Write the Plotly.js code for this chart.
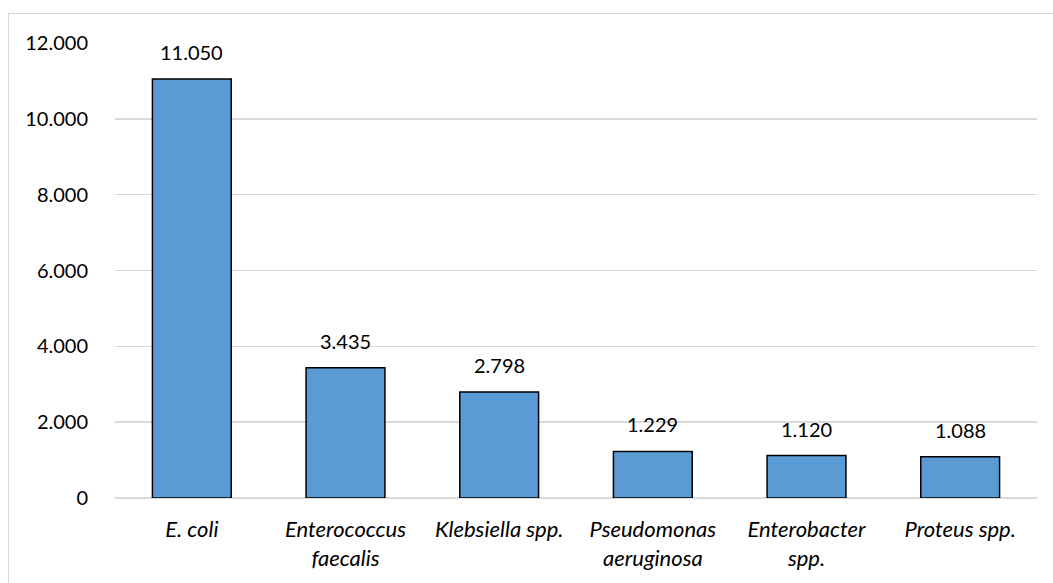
<!DOCTYPE html>
<html>
<head>
<meta charset="utf-8">
<script src="https://cdn.plot.ly/plotly-3.0.1.min.js"></script>
<style>
  html, body { margin: 0; padding: 0; background: #fff; }
  #wrap { position: relative; width: 1053px; height: 583px; overflow: hidden; }
  #chart { width: 1053px; height: 583px; }
  #frame {
    position: absolute; left: 8px; top: 13px; width: 1100px; height: 700px;
    border-left: 1.5px solid #d9d9d9; border-top: 1.5px solid #d9d9d9;
    pointer-events: none;
  }
</style>
</head>
<body>
<div id="wrap">
  <div id="chart"></div>
  <div id="frame"></div>
</div>
<script>
// Isolates per organism
const organisms = [
  'E. coli',
  'Enterococcus<br>faecalis',
  'Klebsiella spp.',
  'Pseudomonas<br>aeruginosa',
  'Enterobacter<br>spp.',
  'Proteus spp.'
];
const isolates = [11050, 3435, 2798, 1229, 1120, 1088];
const yTicks = [0, 2000, 4000, 6000, 8000, 10000, 12000];

const FONT = 'Lato, "Open Sans", sans-serif';

// thousands separated with a dot
function fmt(v) {
  return String(v).replace(/\B(?=(\d{3})+(?!\d))/g, '.');
}

const trace = {
  type: 'bar',
  x: organisms,
  y: isolates,
  marker: { color: '#5b9bd5', line: { color: '#000000', width: 1.5 } },
  hoverinfo: 'none'
};

const annotations = organisms.map((c, i) => ({
  x: c, y: isolates[i], xref: 'x', yref: 'y',
  text: fmt(isolates[i]),
  showarrow: false, yanchor: 'bottom', yshift: 13,
  font: { family: FONT, size: 20, color: '#000' }
}));

const layout = {
  width: 1053, height: 583,
  margin: { l: 115, r: 16, t: 43, b: 85 },
  paper_bgcolor: 'rgba(0,0,0,0)',
  plot_bgcolor: '#fff',
  bargap: 0.487,
  showlegend: false,
  font: { family: FONT, size: 20, color: '#000' },
  xaxis: {
    showgrid: false, zeroline: false, showline: false, ticks: '',
    tickfont: { family: FONT, size: 22, color: '#000', style: 'italic' },
    ticklabelstandoff: 16
  },
  yaxis: {
    range: [0, 12000],
    tickvals: yTicks,
    ticktext: yTicks.map(fmt),
    showgrid: true, gridcolor: '#d9d9d9', gridwidth: 1.5,
    zeroline: true, zerolinecolor: '#d9d9d9', zerolinewidth: 1.5,
    showline: false, ticks: '',
    ticklabelstandoff: 26,
    tickfont: { family: FONT, size: 20, color: '#000' }
  },
  annotations: annotations
};

Plotly.newPlot('chart', [trace], layout, { displayModeBar: false, staticPlot: true });
</script>
</body>
</html>
